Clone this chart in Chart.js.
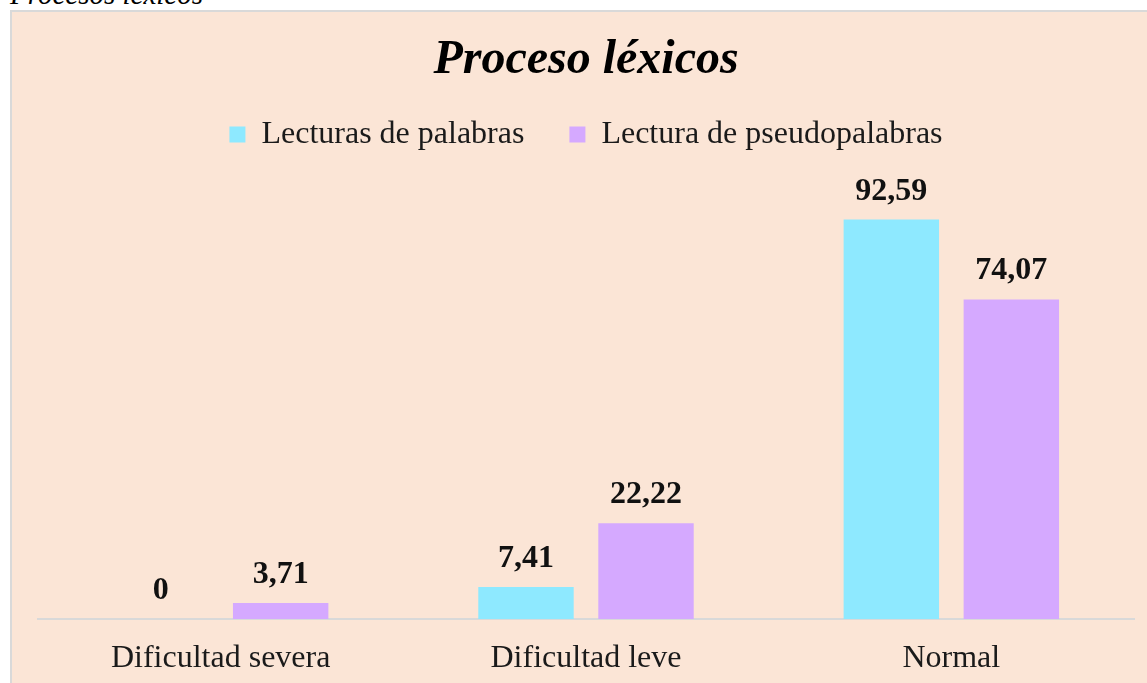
<!DOCTYPE html>
<html>
<head>
<meta charset="utf-8">
<script src="https://cdn.jsdelivr.net/npm/chart.js@4.4.1/dist/chart.umd.min.js"></script>
<style>
  html, body { margin: 0; padding: 0; background: #ffffff; overflow: hidden; }
  body { width: 1147px; height: 683px; position: relative; }
  #caption { position: absolute; left: 10px; top: -20px; font-family: "Liberation Serif", "Times New Roman", serif; font-style: italic; font-size: 29px; line-height: 29px; color: #000; white-space: nowrap; }
  #box { position: absolute; left: 10px; top: 10px; width: 1160px; height: 700px; background: #FBE5D6; border: 2px solid #D9D9D9; }
  #wrap { position: absolute; left: 0; top: 0; width: 1147px; height: 683px; }
</style>
</head>
<body>
<div id="caption">Procesos léxicos</div>
<div id="box"></div>
<div id="wrap"><canvas id="c" width="1147" height="683"></canvas></div>
<script>
const categories = ["Dificultad severa", "Dificultad leve", "Normal"];
const seriesNames = ["Lecturas de palabras", "Lectura de pseudopalabras"];
const lecturasPalabras = [0, 7.41, 92.59];
const lecturaPseudopalabras = [3.71, 22.22, 74.07];

const serif = '"Liberation Serif", "Times New Roman", serif';

const legendSpacer = {
  id: 'legendSpacer',
  beforeInit(chart) {
    const lg = chart.legend;
    if (!lg) return;
    const orig = lg.fit;
    lg.fit = function () { orig.call(this); this.height += 27; };
  }
};

const valueLabels = {
  id: 'valueLabels',
  afterDatasetsDraw(chart) {
    const ctx = chart.ctx;
    ctx.save();
    ctx.font = 'bold 32px ' + serif;
    ctx.fillStyle = '#111111';
    ctx.textAlign = 'center';
    ctx.textBaseline = 'alphabetic';
    chart.data.datasets.forEach((ds, di) => {
      const meta = chart.getDatasetMeta(di);
      meta.data.forEach((bar, i) => {
        const txt = String(ds.data[i]).replace('.', ',');
        ctx.fillText(txt, bar.x, bar.y - 20);
      });
    });
    ctx.restore();
  }
};

new Chart(document.getElementById('c'), {
  type: 'bar',
  data: {
    labels: categories,
    datasets: [
      { label: seriesNames[0], data: lecturasPalabras, backgroundColor: '#8EE9FF', borderWidth: 0 },
      { label: seriesNames[1], data: lecturaPseudopalabras, backgroundColor: '#D5A9FF', borderWidth: 0 }
    ]
  },
  options: {
    responsive: false,
    animation: false,
    devicePixelRatio: 1,
    layout: { padding: { left: 38, right: 13, top: 0, bottom: 6 } },
    datasets: { bar: { categoryPercentage: 0.657, barPercentage: 0.795 } },
    plugins: {
      title: {
        display: true,
        text: 'Proceso léxicos',
        color: '#000000',
        font: { family: serif, size: 48, weight: 'bold', style: 'italic' },
        padding: { top: 32, bottom: -16 }
      },
      legend: {
        display: true,
        position: 'top',
        labels: {
          color: '#1a1a1a',
          font: { family: serif, size: 32 },
          boxWidth: 16,
          boxHeight: 16,
          padding: 45
        }
      },
      tooltip: { enabled: false }
    },
    scales: {
      x: {
        grid: { display: false, drawTicks: false },
        border: { display: true, color: '#D9D9D9', width: 2 },
        ticks: { color: '#1a1a1a', font: { family: serif, size: 32 }, padding: 20 },
        afterFit(scale) { scale.height = 58; }
      },
      y: { display: false, min: 0, max: 100 }
    }
  },
  plugins: [legendSpacer, valueLabels]
});
</script>
</body>
</html>
